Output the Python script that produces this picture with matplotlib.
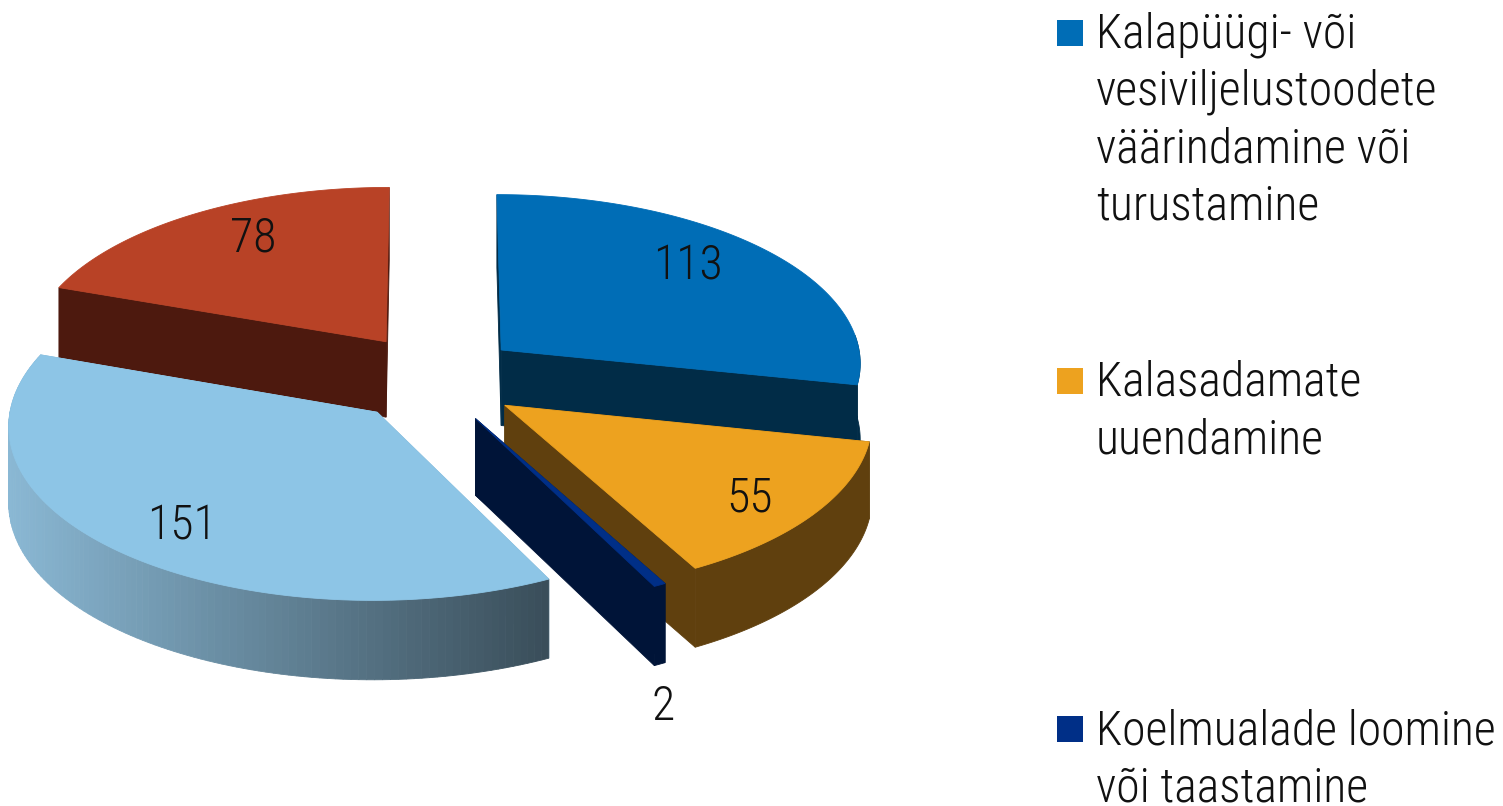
# -*- coding:utf-8 -*-

import numpy as np
import matplotlib
matplotlib.use('Agg')
import matplotlib.pyplot as plt
from matplotlib import font_manager as fm
from matplotlib.patches import Polygon, Rectangle
from matplotlib.colors import to_rgb

# clockwise from 12 o'clock
values = [113, 55, 2, 151, 78]
top_colors = ['#006DB6', '#EDA21F', '#002F87', '#8DC5E6', '#B84226']
wall_colors = ['#012C47', '#60400E', '#001438', '#8AB8D4', '#4D190E']
wall_end = '#3A4E5A'
draw_order = [4, 0, 3, 1, 2]

label_xy = [(688, 266), (750, 499), (663, 707), (182, 526), (253, 238)]

legend_names = [
    ['Kalapüügi- või', 'vesiviljelustoodete', 'väärindamine või', 'turustamine'],
    ['Kalasadamate', 'uuendamine'],
    ['Koelmualade loomine', 'või taastamine'],
]
legend_colors = ['#006DB6', '#EDA21F', '#002F87']
legend_box_top = [20, 368, 716]
legend_baseline = [47.5, 396, 744.5]
line_step = 57.4

# pie geometry in pixels
cx, cy = 435, 378
rx, ry = 362, 170
depth = 76
explode_x = 0.238
explode_y = 0.265
persp = 0.07

installed = set(f.name for f in fm.fontManager.ttflist)
if 'Roboto Condensed' in installed:
    font = 'Roboto Condensed'
    fsize = 34.4
else:
    font = 'Roboto'
    fsize = 28.5


def project(theta, r, mid, z=0.0):
    u = r * np.sin(theta) + explode_x * np.sin(mid)
    v = r * np.cos(theta) + explode_y * np.cos(mid)
    w = 1 + persp * v
    return cx + rx * u / w, cy - ry * v / w + z * depth / np.sqrt(w)


def quad(ax, xs, ys, color, z):
    ax.add_patch(Polygon(np.column_stack([xs, ys]), closed=True, facecolor=color,
                         edgecolor=color, linewidth=0.6, zorder=z))


def main():
    fig = plt.figure(figsize=(15.03, 8.06), dpi=100)
    ax = fig.add_axes([0, 0, 1, 1])
    ax.set_xlim(0, 1503)
    ax.set_ylim(806, 0)
    ax.axis('off')

    edges = np.cumsum([0] + values) / sum(values) * 2 * np.pi
    z = 1
    for i in draw_order:
        a0, a1 = edges[i], edges[i + 1]
        mid = (a0 + a1) / 2
        t = np.linspace(a0, a1, 120)
        # radial faces
        for a in (a0, a1):
            x0, y0 = project(0, 0, mid)
            x1, y1 = project(a, 1, mid)
            x2, y2 = project(a, 1, mid, 1)
            x3, y3 = project(0, 0, mid, 1)
            quad(ax, [x0, x1, x2, x3], [y0, y1, y2, y3], wall_colors[i], z)
        # outer wall
        xt, yt = project(t, 1, mid)
        xb, yb = project(t, 1, mid, 1)
        front = np.cos(t) < 0.1
        if i == 3:
            c0, c1 = np.array(to_rgb(wall_colors[i])), np.array(to_rgb(wall_end))
            x_min, x_max = xt.min(), xt[0]
            for k in range(len(t) - 1):
                f = (xt[k] - x_min) / (x_max - x_min)
                c = tuple(c0 + (c1 - c0) * f)
                quad(ax, [xt[k], xt[k + 1], xb[k + 1], xb[k]],
                     [yt[k], yt[k + 1], yb[k + 1], yb[k]], c, z)
        elif front.any():
            quad(ax, np.r_[xt[front], xb[front][::-1]], np.r_[yt[front], yb[front][::-1]],
                 wall_colors[i], z)
        # top face
        x0, y0 = project(0, 0, mid)
        quad(ax, np.r_[x0, xt], np.r_[y0, yt], top_colors[i], z + 0.5)
        z += 1

    for v, (x, y) in zip(values, label_xy):
        ax.text(x, y, str(v), ha='center', va='center', family=[font, 'Roboto', 'DejaVu Sans'],
                weight=300, fontsize=fsize, color='#111111', zorder=20)

    for lines, col, top, base in zip(legend_names, legend_colors, legend_box_top, legend_baseline):
        ax.add_patch(Rectangle((1057, top), 26, 26, facecolor=col, edgecolor='none', zorder=20))
        for k, line in enumerate(lines):
            ax.text(1096, base + k * line_step, line, ha='left', va='baseline',
                    family=[font, 'Roboto', 'DejaVu Sans'], weight=300, fontsize=fsize,
                    color='#111111', zorder=20)

    fig.savefig('out.png', dpi=100, facecolor='white')


if __name__ == "__main__":
    main()
